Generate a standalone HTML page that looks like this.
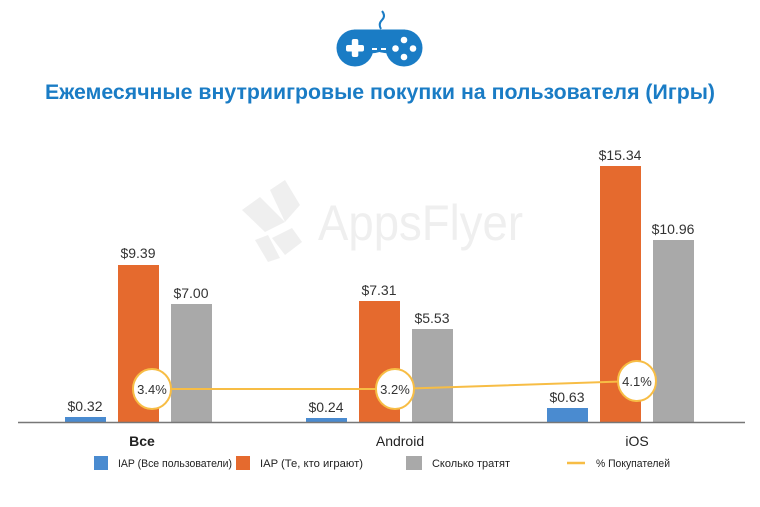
<!DOCTYPE html>
<html><head><meta charset="utf-8"><style>
html,body{margin:0;padding:0;background:#fff;width:760px;height:507px;overflow:hidden}
svg{display:block}
</style></head><body>
<svg width="760" height="507" viewBox="0 0 760 507" xmlns="http://www.w3.org/2000/svg" font-family="Liberation Sans, sans-serif">
<!-- gamepad -->
<path d="M381 29 q-3 -5 1 -9 q4 -4 0 -9" stroke="#1a7cc5" stroke-width="2" fill="none"/>
<g fill="#1a7cc5">
<circle cx="355" cy="48" r="18.5"/>
<circle cx="404" cy="48" r="18.5"/>
<path d="M354 29.5 H405 V48 Q392 56 379.5 52 Q367 56 354 48 Z"/>
</g>
<g fill="#fff">
<rect x="346" y="45" width="18" height="6.5" rx="2"/><rect x="351.8" y="39" width="6.5" height="18" rx="2"/>
<rect x="372" y="48" width="5" height="2"/><rect x="381" y="48" width="5" height="2"/>
<circle cx="404" cy="40" r="3.3"/><circle cx="404" cy="57" r="3.3"/><circle cx="395.5" cy="48.5" r="3.3"/><circle cx="413" cy="48.5" r="3.3"/>
</g>
<text x="380" y="99" text-anchor="middle" font-size="21" font-weight="bold" fill="#1a7cc5" textLength="670" lengthAdjust="spacingAndGlyphs">Ежемесячные внутриигровые покупки на пользователя (Игры)</text>
<!-- watermark -->
<g fill="#efefef">
<polygon points="242,210 260,197 285,222 265,232"/>
<polygon points="270,190 285,180 300,205 285,222"/>
<polygon points="272,238 292,228 302,242 285,255"/>
<polygon points="255,240 268,235 280,258 268,262"/>
</g>
<text x="318" y="240" font-size="50" fill="#efefef" textLength="205" lengthAdjust="spacingAndGlyphs">AppsFlyer</text>
<!-- bars -->
<g>
<rect x="65" y="417" width="41" height="5" fill="#4a8bd0"/>
<rect x="118" y="265" width="41" height="157" fill="#e56a2e"/>
<rect x="171" y="304" width="41" height="118" fill="#a9a9a9"/>
<rect x="306" y="418" width="41" height="4" fill="#4a8bd0"/>
<rect x="359" y="301" width="41" height="121" fill="#e56a2e"/>
<rect x="412" y="329" width="41" height="93" fill="#a9a9a9"/>
<rect x="547" y="408" width="41" height="14" fill="#4a8bd0"/>
<rect x="600" y="166" width="41" height="256" fill="#e56a2e"/>
<rect x="653" y="240" width="41" height="182" fill="#a9a9a9"/>
</g>
<line x1="18" y1="422.5" x2="745" y2="422.5" stroke="#777" stroke-width="1.5"/>
<g font-size="14" fill="#333" text-anchor="middle">
<text x="85" y="411">$0.32</text>
<text x="138" y="258">$9.39</text>
<text x="191" y="298">$7.00</text>
<text x="326" y="412">$0.24</text>
<text x="379" y="295">$7.31</text>
<text x="432" y="323">$5.53</text>
<text x="567" y="402">$0.63</text>
<text x="620" y="160">$15.34</text>
<text x="673" y="234">$10.96</text>
</g>
<polyline points="152,389 395,389 637,381" fill="none" stroke="#f7bd45" stroke-width="2"/>
<g fill="#fff" stroke="#f7bd45" stroke-width="2">
<ellipse cx="152" cy="389" rx="19" ry="20"/>
<ellipse cx="395" cy="389" rx="19" ry="20"/>
<ellipse cx="637" cy="381" rx="19" ry="20"/>
</g>
<g font-size="13" fill="#333" text-anchor="middle">
<text x="152" y="394">3.4%</text>
<text x="395" y="394">3.2%</text>
<text x="637" y="386">4.1%</text>
</g>
<g font-size="14" fill="#222" text-anchor="middle">
<text x="142" y="446" font-weight="bold">Все</text>
<text x="400" y="446">Android</text>
<text x="637" y="446">iOS</text>
</g>
<rect x="94" y="456" width="14" height="14" fill="#4a8bd0"/>
<rect x="236" y="456" width="14" height="14" fill="#e56a2e"/>
<rect x="406" y="456" width="16" height="14" fill="#a9a9a9"/>
<line x1="567" y1="463" x2="585" y2="463" stroke="#f7bd45" stroke-width="2.5"/>
<g font-size="11" fill="#222">
<text x="118" y="467" textLength="114" lengthAdjust="spacingAndGlyphs">IAP (Все пользователи)</text>
<text x="260" y="467" textLength="103" lengthAdjust="spacingAndGlyphs">IAP (Те, кто играют)</text>
<text x="432" y="467" textLength="78" lengthAdjust="spacingAndGlyphs">Сколько тратят</text>
<text x="596" y="467" textLength="74" lengthAdjust="spacingAndGlyphs">% Покупателей</text>
</g>
</svg>
</body></html>
